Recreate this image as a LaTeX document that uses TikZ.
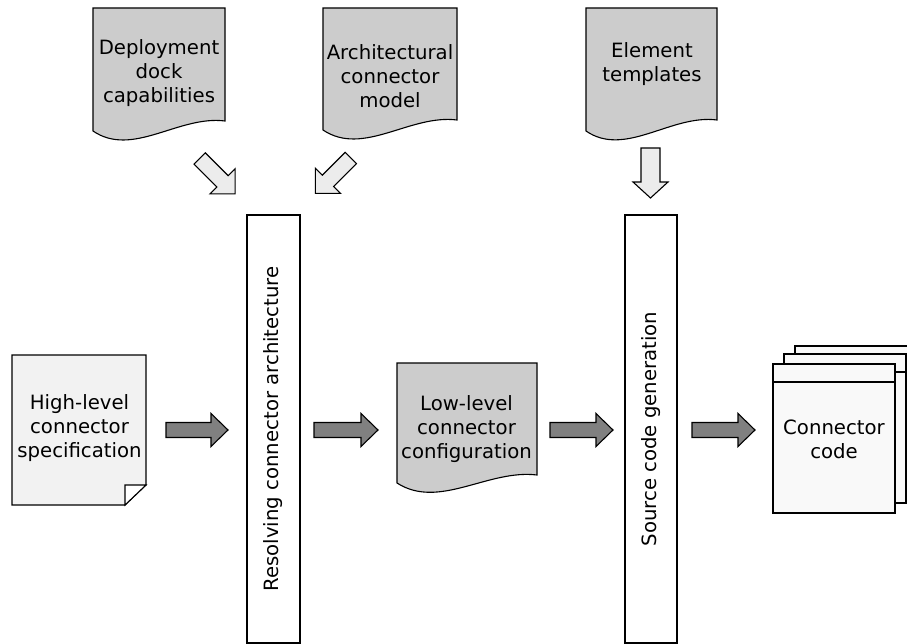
\documentclass[tikz,border=0pt]{standalone}
\usepackage{fontspec}
\setmainfont{DejaVu Sans}
\definecolor{docgray}{HTML}{CCCCCC}
\definecolor{paper}{HTML}{F2F2F2}
\definecolor{codepaper}{HTML}{F9F9F9}
\definecolor{darkarrow}{HTML}{808080}
\definecolor{lightarrow}{HTML}{ECECEC}
\newcommand{\wavedoc}[5]{% x1 x2 top yleft yright
  \draw[docshape] (#1,#3) -- (#2,#3) -- (#2,#5)
    .. controls ({#1+0.65*(#2-#1)},{#5-6}) and ({#1+0.3*(#2-#1)},{#4+27}) .. (#1,#4) -- cycle;}
\newcommand{\blockarrow}[8]{% style, tail x, tail y, angle, length, shaft half, head half, head length
  \draw[#1, shift={(#2,#3)}, rotate=#4]
    (0,#6) -- ({#5-#8},#6) -- ({#5-#8},#7) -- (#5,0) -- ({#5-#8},-#7) -- ({#5-#8},-#6) -- (0,-#6) -- cycle;}
\begin{document}
\begin{tikzpicture}[x=1pt,y=-1pt,
  line join=miter,
  docshape/.style={draw=black, fill=docgray, line width=1.1pt},
  lbl/.style={font=\fontsize{19.7}{24}\selectfont, align=center, inner sep=0pt},
  darr/.style={draw=black, fill=darkarrow, line width=1.1pt},
  larr/.style={draw=black, fill=lightarrow, line width=1.1pt},
  stage/.style={draw=black, fill=white, line width=1.1pt, minimum width=53pt, minimum height=428pt, inner sep=0pt},
  codepage/.style={draw=black, fill=codepaper, line width=1.1pt}]
\useasboundingbox (0,0) rectangle (907,644);
\clip (0,0) rectangle (907,644);

% top documents
\wavedoc{93}{225}{8}{131}{121}
\node[lbl] (deploy) at (159,73) {Deployment\\dock\\capabilities};
\wavedoc{323}{457}{8}{130}{120}
\node[lbl] (archmodel) at (390,76) {Architectural\\connector\\model};
\wavedoc{586}{717}{8}{131}{120}
\node[lbl] (templates) at (652,64) {Element\\templates};

% light arrows
\blockarrow{larr}{199.7}{158.5}{-45}{50}{8}{17.7}{17.7}
\blockarrow{larr}{350.8}{158}{-135}{50}{8}{17.7}{17.7}
\blockarrow{larr}{650.5}{148}{-90}{50}{9.5}{17.5}{16}

% stage boxes
\node[stage] (resolve) at (273.5,429) {};
\node[lbl, rotate=90] (resolvetxt) at (resolve) {Resolving connector architecture};
\node[stage, minimum width=52pt] (gen) at (651,429) {};
\node[lbl, rotate=90] (gentxt) at (gen) {Source code generation};

% high-level spec document with folded corner
\draw[draw=black, fill=paper, line width=1.1pt] (12,355) -- (146,355) -- (146,485) -- (125,505) -- (12,505) -- cycle;
\draw[draw=black, fill=white, line width=1.1pt] (125,485) -- (146,485) -- (125,505) -- cycle;
\node[lbl] (highspec) at (79.5,428) {High-level\\connector\\specification};

% low-level configuration document
\wavedoc{397}{537}{363}{483}{475}
\node[lbl] (lowconf) at (466.5,429) {Low-level\\connector\\configuration};

% connector code stack
\draw[codepage] (795,346) rectangle (917,495);
\draw[codepage] (784,354) rectangle (906,503);
\draw[black, line width=1.1pt] (784,372) -- (906,372);
\draw[codepage] (773,364) rectangle (895,513);
\draw[black, line width=1.1pt] (773,382) -- (895,382);
\node[lbl] (code) at (834,439) {Connector\\code};

% dark arrows
\blockarrow{darr}{166}{430}{0}{62}{7.5}{16.5}{17}
\blockarrow{darr}{314}{430}{0}{64}{7.5}{16.5}{17}
\blockarrow{darr}{550}{430}{0}{63}{7.5}{16.5}{17}
\blockarrow{darr}{692}{430}{0}{63}{7.5}{16.5}{17}
\end{tikzpicture}
\end{document}
